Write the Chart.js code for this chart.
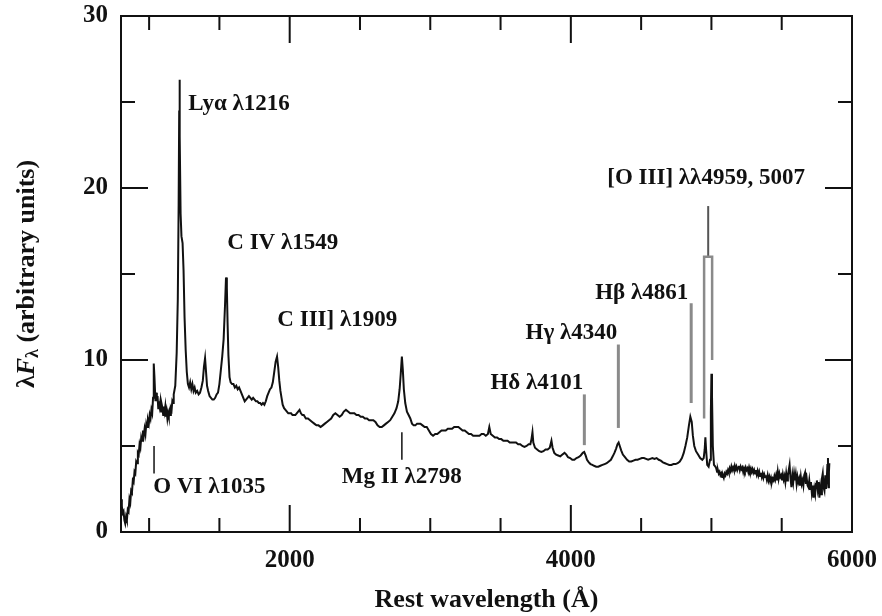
<!DOCTYPE html>
<html>
<head>
<meta charset="utf-8">
<script src="https://cdn.jsdelivr.net/npm/chart.js@4.4.1/dist/chart.umd.min.js"></script>
<style>
  html, body { margin: 0; padding: 0; background: #fff; }
  #wrap { width: 882px; height: 616px; }
</style>
</head>
<body>
<div id="wrap"><canvas id="chart" width="882" height="616"></canvas></div>
<script>
// spectrum (rest wavelength in Å, flux in arbitrary units)
const wavelengths = [
  800, 806, 812, 818, 824, 830, 836, 842, 848, 854, 860, 866, 872, 878, 884, 890, 896, 902, 908, 914,
  920, 926, 932, 938, 944, 950, 956, 962, 968, 974, 980, 986, 992, 998, 1004, 1010, 1016, 1022, 1028, 1033,
  1038, 1045, 1050, 1055, 1060, 1065, 1070, 1075, 1080, 1085, 1090, 1095, 1100, 1105, 1110, 1115, 1120, 1125, 1130, 1135,
  1140, 1145, 1150, 1155, 1160, 1165, 1170, 1175,
  1186, 1196, 1204, 1210, 1214, 1216, 1219, 1224, 1230, 1238, 1245, 1252, 1260, 1268, 1276, 1284, 1292, 1300, 1308, 1316,
  1324, 1332, 1342, 1352, 1362, 1372, 1382, 1390, 1398, 1405, 1412, 1420, 1430, 1440, 1450, 1460, 1470, 1480, 1490, 1500,
  1510, 1520, 1530, 1540, 1547, 1553, 1558, 1564, 1572, 1580, 1590, 1600, 1610, 1620, 1630, 1640, 1650, 1660, 1670, 1680,
  1690, 1700, 1710, 1720, 1730, 1740, 1750, 1760, 1770, 1780, 1790, 1800, 1810, 1820, 1830, 1840, 1850, 1860, 1870, 1880,
  1890, 1900, 1910, 1918, 1926, 1934, 1942, 1950, 1960, 1970, 1980, 1990, 2000, 2010, 2020, 2030, 2040, 2050, 2060, 2070,
  2080, 2090, 2100, 2115, 2130, 2145, 2160, 2175, 2190, 2205, 2220, 2235, 2250, 2265, 2280, 2295, 2310, 2325, 2340, 2355,
  2370, 2385, 2400, 2415, 2430, 2445, 2460, 2475, 2490, 2505, 2520, 2535, 2550, 2565, 2580, 2595, 2610, 2625, 2640, 2655,
  2670, 2685, 2700, 2715, 2730, 2745, 2760, 2772, 2782, 2790, 2798, 2805, 2812, 2822, 2834, 2846, 2858, 2870, 2882, 2894,
  2906, 2918, 2930, 2945, 2960, 2975, 2990, 3005, 3020, 3035, 3050, 3065, 3080, 3095, 3110, 3125, 3140, 3155, 3170, 3185,
  3200, 3215, 3230, 3245, 3260, 3275, 3290, 3305, 3320, 3335, 3350, 3365, 3380, 3395, 3410, 3420, 3430, 3445, 3460, 3475,
  3490, 3505, 3520, 3535, 3550, 3565, 3580, 3595, 3610, 3625, 3640, 3655, 3670, 3685, 3700, 3712, 3720, 3727, 3733, 3745,
  3760, 3775, 3790, 3805, 3820, 3835, 3850, 3862, 3870, 3882, 3895, 3910, 3925, 3940, 3955, 3968, 3980, 3995, 4010, 4025,
  4040, 4055, 4070, 4085, 4095, 4105, 4115, 4128, 4140, 4153, 4165, 4180, 4195, 4210, 4225, 4240, 4255, 4270, 4285, 4298,
  4310, 4322, 4332, 4340, 4348, 4358, 4370, 4385, 4400, 4415, 4430, 4445, 4460, 4475, 4490, 4505, 4520, 4535, 4550, 4565,
  4580, 4595, 4610, 4625, 4640, 4655, 4670, 4685, 4700, 4715, 4730, 4745, 4760, 4775, 4790, 4803, 4815, 4828, 4840, 4850,
  4860, 4868, 4878, 4890, 4905, 4920, 4935, 4945, 4952, 4957, 4962, 4970, 4980, 4990, 4996, 5000, 5004, 5010, 5018, 5028,
  5034, 5040, 5046, 5052, 5058, 5064, 5070, 5076, 5082, 5088, 5094, 5100, 5106, 5112, 5118, 5124, 5130, 5136, 5142, 5148,
  5154, 5160, 5166, 5172, 5178, 5184, 5190, 5196, 5202, 5208, 5214, 5220, 5226, 5232, 5238, 5244, 5250, 5256, 5262, 5268,
  5274, 5280, 5286, 5292, 5298, 5304, 5310, 5316, 5322, 5328, 5334, 5340, 5346, 5352, 5358, 5364, 5370, 5376, 5382, 5388,
  5394, 5400, 5406, 5412, 5418, 5424, 5430, 5436, 5442, 5448, 5454, 5460, 5466, 5472, 5478, 5484, 5490, 5496, 5502, 5508,
  5514, 5520, 5526, 5532, 5538, 5544, 5550, 5556, 5562, 5569, 5576, 5582, 5588, 5594, 5600, 5606, 5612, 5618, 5624, 5630,
  5636, 5642, 5648, 5654, 5660, 5666, 5672, 5678, 5684, 5690, 5696, 5702, 5708, 5714, 5720, 5726, 5732, 5738, 5744, 5750,
  5756, 5762, 5768, 5774, 5780, 5786, 5792, 5798, 5804, 5810, 5815, 5820, 5825, 5829, 5833, 5836, 5839
];
const flux = [
  1.9, 1.5, 1.1, 1.2, 0.7, 0.5, 0.9, 0.7, 1.3, 1.2, 1.9, 1.7, 2.4, 2.3, 3.0, 2.9, 3.5, 3.4, 4.1, 4.0,
  4.6, 4.5, 5.1, 4.9, 5.5, 5.3, 5.9, 5.6, 6.0, 5.7, 6.3, 6.1, 6.5, 6.3, 6.8, 6.6, 7.1, 6.9, 7.8, 9.8,
  9.0, 7.6, 8.1, 7.6, 7.9, 7.2, 7.6, 7.3, 7.6, 7.0, 7.4, 7.2, 6.8, 7.3, 7.0, 7.3, 6.7, 7.0, 6.6, 6.9,
  6.7, 7.0, 6.8, 7.2, 7.1, 7.6, 7.5, 8.0,
  8.5, 10.4, 13.5, 19, 24.5, 26.3, 23, 18.5, 17.2, 16.8, 15.2, 12.5, 10.6, 9.3, 8.6, 8.4, 8.7, 8.3, 8.6, 8.2,
  8.4, 8.1, 8.2, 8.0, 8.1, 8.4, 8.8, 9.6, 10.1, 9.3, 8.5, 8.2, 7.9, 7.8, 7.7, 7.7, 7.8, 8.0, 8.1, 8.6,
  9.4, 10.2, 11.2, 13.2, 14.8, 14.2, 12.2, 10.3, 9.0, 8.7, 8.6, 8.6, 8.4, 8.5, 8.3, 8.4, 8.2, 8.0, 7.8, 7.6,
  7.7, 7.8, 7.9, 7.8, 7.7, 7.8, 7.7, 7.6, 7.6, 7.5, 7.5, 7.4, 7.5, 7.4, 7.6, 7.9, 8.1, 8.3, 8.4, 8.7,
  9.3, 9.9, 10.2, 9.6, 8.8, 8.2, 7.8, 7.4, 7.2, 7.1, 7.0, 6.9, 6.9, 6.9, 6.8, 6.8, 6.8, 6.9, 7.0, 7.1,
  6.9, 6.8, 6.8, 6.6, 6.6, 6.5, 6.4, 6.3, 6.2, 6.2, 6.1, 6.2, 6.3, 6.4, 6.5, 6.6, 6.8, 6.9, 6.8, 6.7,
  6.8, 7.0, 7.1, 7.0, 6.9, 6.9, 6.9, 6.8, 6.8, 6.7, 6.7, 6.6, 6.6, 6.5, 6.5, 6.5, 6.4, 6.2, 6.1, 6.1,
  6.2, 6.3, 6.4, 6.5, 6.7, 6.9, 7.2, 7.6, 8.3, 9.2, 10.2, 9.4, 8.3, 7.5, 7.0, 6.8, 6.6, 6.3, 6.2, 6.2,
  6.3, 6.3, 6.3, 6.2, 6.1, 6.1, 5.9, 5.7, 5.6, 5.7, 5.7, 5.8, 5.9, 5.9, 5.9, 6.0, 6.0, 6.0, 6.1, 6.1,
  6.1, 6.0, 5.9, 5.9, 5.8, 5.7, 5.7, 5.6, 5.6, 5.6, 5.6, 5.7, 5.7, 5.6, 5.7, 6.1, 5.7, 5.6, 5.5, 5.5,
  5.4, 5.4, 5.3, 5.3, 5.3, 5.2, 5.2, 5.2, 5.2, 5.1, 5.1, 5.0, 4.95, 5.0, 5.1, 5.1, 5.4, 5.8, 5.2, 4.9,
  4.8, 4.7, 4.65, 4.7, 4.8, 4.8, 4.9, 5.3, 4.9, 4.6, 4.5, 4.45, 4.4, 4.5, 4.6, 4.5, 4.35, 4.3, 4.2, 4.2,
  4.3, 4.35, 4.45, 4.6, 4.65, 4.45, 4.2, 4.05, 3.95, 3.9, 3.85, 3.8, 3.8, 3.85, 3.9, 3.95, 4.0, 4.1, 4.2, 4.4,
  4.6, 4.85, 5.1, 5.2, 5.0, 4.75, 4.5, 4.35, 4.2, 4.1, 4.1, 4.15, 4.2, 4.2, 4.25, 4.3, 4.3, 4.25, 4.2, 4.25,
  4.3, 4.25, 4.3, 4.2, 4.15, 4.05, 4.0, 3.95, 3.9, 3.9, 3.95, 3.95, 4.0, 4.1, 4.3, 4.6, 5.0, 5.5, 6.2, 6.7,
  6.4, 5.6, 5.0, 4.7, 4.5, 4.3, 4.2, 4.3, 4.8, 5.5, 4.8, 3.9, 3.8, 4.2, 7.0, 9.2, 8.0, 5.0, 3.9, 3.8,
  3.7, 3.5, 3.6, 3.4, 3.5, 3.3, 3.4, 3.2, 3.3, 3.15, 3.4, 3.3, 3.5, 3.4, 3.6, 3.45, 3.7, 3.55, 3.8, 3.6,
  3.75, 3.6, 3.85, 3.65, 3.8, 3.6, 3.75, 3.85, 3.6, 3.8, 3.65, 3.75, 3.5, 3.7, 3.55, 3.75, 3.6, 3.7, 3.5, 3.75,
  3.55, 3.7, 3.5, 3.65, 3.45, 3.6, 3.4, 3.6, 3.35, 3.55, 3.3, 3.5, 3.25, 3.45, 3.2, 3.4, 3.15, 3.35, 3.2, 3.3,
  3.05, 3.3, 3.0, 3.2, 2.95, 3.15, 2.9, 3.1, 3.0, 3.25, 3.05, 3.3, 3.0, 3.5, 3.1, 3.4, 3.2, 3.3, 3.0, 3.35,
  3.05, 3.25, 2.9, 3.4, 3.0, 3.3, 3.6, 3.9, 3.2, 2.6, 3.3, 2.9, 3.4, 3.0, 3.35, 2.8, 3.2, 2.9, 3.1, 2.7,
  3.2, 2.8, 3.0, 2.7, 3.3, 3.45, 2.8, 3.1, 2.7, 2.6, 3.0, 2.5, 2.9, 2.3, 2.7, 2.0, 2.5, 2.2, 2.8, 3.0,
  2.5, 2.9, 2.0, 2.6, 2.2, 3.1, 3.4, 2.6, 2.4, 3.3, 2.5, 3.0, 3.9, 4.3, 2.6, 3.5, 4.0
];

// axis ticks
const xTickLabels = [2000, 4000, 6000];
const xMinorTicks = [1000, 1500, 2500, 3000, 3500, 4500, 5000, 5500];
const xMajorTicks = [2000, 4000];
const yTickLabels = [0, 10, 20, 30];
const yMinorTicks = [5, 15, 25];
const yMajorTicks = [10, 20];

// line markers (wavelength, lower and upper flux)
const markerLambda = [1035, 2798, 4096, 4338, 4856];
const markerLow = [3.4, 4.2, 5.05, 6.05, 7.5];
const markerHigh = [5.0, 5.8, 8.0, 10.9, 13.3];
const oiiiBoxLambda = [4948, 4948, 5005, 5005];
const oiiiBoxFlux = [6.6, 16, 16, 10.0];
const oiiiStemLambda = [4977, 4977];
const oiiiStemFlux = [16, 18.95];

// line labels: anchor wavelength / flux, and which side the anchor is on
const labelText = ["Ly\u03b1 \u03bb1216", "C IV \u03bb1549", "C III] \u03bb1909", "O VI \u03bb1035",
  "Mg II \u03bb2798", "H\u03b4 \u03bb4101", "H\u03b3 \u03bb4340", "H\u03b2 \u03bb4861", "[O III] \u03bb\u03bb4959, 5007"];
const labelLambda = [1279, 1556, 1912, 1030, 2797, 4089, 4330, 4835, 4259];
const labelFlux = [24.9, 16.8, 12.3, 2.6, 3.2, 8.66, 11.57, 13.9, 20.6];
const labelAlign = ["left", "left", "left", "left", "center", "right", "right", "right", "left"];

const SERIF = "'Liberation Serif', 'Times New Roman', serif";
const INK = "#111";
const MARKER_GRAY = "#8a8a8a";

function toPoints(xs, ys) {
  return xs.map((x, i) => ({ x: x, y: ys[i] }));
}

const datasets = [
  {
    label: "spectrum",
    data: toPoints(wavelengths, flux),
    borderColor: INK,
    borderWidth: 2,
    pointRadius: 0,
    tension: 0,
  },
];

markerLambda.forEach((lam, i) => {
  datasets.push({
    label: "marker" + i,
    data: [{ x: lam, y: markerLow[i] }, { x: lam, y: markerHigh[i] }],
    borderColor: i < 2 ? INK : MARKER_GRAY,
    borderWidth: i < 2 ? 1.5 : 3,
    pointRadius: 0,
  });
});
datasets.push({
  label: "oiiiBox",
  data: toPoints(oiiiBoxLambda, oiiiBoxFlux),
  borderColor: MARKER_GRAY,
  borderWidth: 2.5,
  pointRadius: 0,
});
datasets.push({
  label: "oiiiStem",
  data: toPoints(oiiiStemLambda, oiiiStemFlux),
  borderColor: "#555",
  borderWidth: 2,
  pointRadius: 0,
});

const framePlugin = {
  id: "framePlugin",
  afterDraw(chart) {
    const ctx = chart.ctx;
    const area = chart.chartArea;
    const xs = chart.scales.x;
    const ys = chart.scales.y;
    ctx.save();
    ctx.strokeStyle = INK;
    ctx.lineWidth = 2;
    ctx.strokeRect(area.left, area.top, area.right - area.left, area.bottom - area.top);

    ctx.beginPath();
    const tick = (vals, len, horizontal) => {
      vals.forEach((v) => {
        if (horizontal) {
          const px = xs.getPixelForValue(v);
          ctx.moveTo(px, area.bottom); ctx.lineTo(px, area.bottom - len);
          ctx.moveTo(px, area.top); ctx.lineTo(px, area.top + len);
        } else {
          const py = ys.getPixelForValue(v);
          ctx.moveTo(area.left, py); ctx.lineTo(area.left + len, py);
          ctx.moveTo(area.right, py); ctx.lineTo(area.right - len, py);
        }
      });
    };
    tick(xMinorTicks, 14, true);
    tick(xMajorTicks, 27, true);
    tick(yMinorTicks, 14, false);
    tick(yMajorTicks, 27, false);
    ctx.stroke();

    // line labels
    ctx.fillStyle = INK;
    ctx.font = "bold 23px " + SERIF;
    ctx.textBaseline = "middle";
    labelText.forEach((t, i) => {
      ctx.textAlign = labelAlign[i];
      ctx.fillText(t, xs.getPixelForValue(labelLambda[i]), ys.getPixelForValue(labelFlux[i]));
    });

    // x title
    const cx = (area.left + area.right) / 2;
    ctx.font = "bold 26px " + SERIF;
    ctx.textAlign = "center";
    ctx.fillText("Rest wavelength (\u00c5)", cx, 600);

    // y title: λ F_λ (arbitrary units), rotated
    const cy = (area.top + area.bottom) / 2;
    ctx.translate(27, cy);
    ctx.rotate(-Math.PI / 2);
    const parts = [
      { t: "\u03bb", f: "bold 26px " + SERIF, dy: 0 },
      { t: "F", f: "italic bold 26px " + SERIF, dy: 0 },
      { t: "\u03bb", f: "bold 18px " + SERIF, dy: 6 },
      { t: " (arbitrary units)", f: "bold 26px " + SERIF, dy: 0 },
    ];
    let total = 0;
    parts.forEach((p) => { ctx.font = p.f; total += ctx.measureText(p.t).width; });
    let pos = -total / 2;
    ctx.textAlign = "left";
    parts.forEach((p) => {
      ctx.font = p.f;
      ctx.fillText(p.t, pos, p.dy);
      pos += ctx.measureText(p.t).width;
    });
    ctx.restore();
  },
};

new Chart(document.getElementById("chart"), {
  type: "line",
  data: { datasets: datasets },
  options: {
    responsive: false,
    animation: false,
    events: [],
    layout: { padding: { top: 16, right: 30, left: 0, bottom: 0 } },
    plugins: { legend: { display: false }, tooltip: { enabled: false } },
    scales: {
      x: {
        type: "linear",
        min: 800,
        max: 6000,
        grid: { display: false, drawTicks: false },
        border: { display: false },
        afterBuildTicks: (scale) => {
          scale.ticks = xTickLabels.map((v) => ({ value: v }));
        },
        afterFit: (scale) => {
          scale.height = 84;
          scale.paddingLeft = 0;
          scale.paddingRight = 0;
        },
        ticks: {
          color: INK,
          padding: 14,
          maxRotation: 0,
          callback: (v) => String(v),
          font: { family: SERIF, size: 25, weight: "bold" },
        },
      },
      y: {
        type: "linear",
        min: 0,
        max: 30,
        grid: { display: false, drawTicks: false },
        border: { display: false },
        afterBuildTicks: (scale) => {
          scale.ticks = yTickLabels.map((v) => ({ value: v }));
        },
        afterFit: (scale) => {
          scale.width = 121;
          scale.paddingTop = 0;
          scale.paddingBottom = 0;
        },
        ticks: {
          color: INK,
          padding: 13,
          callback: (v) => String(v),
          font: { family: SERIF, size: 25, weight: "bold" },
        },
      },
    },
  },
  plugins: [framePlugin],
});
</script>
</body>
</html>
